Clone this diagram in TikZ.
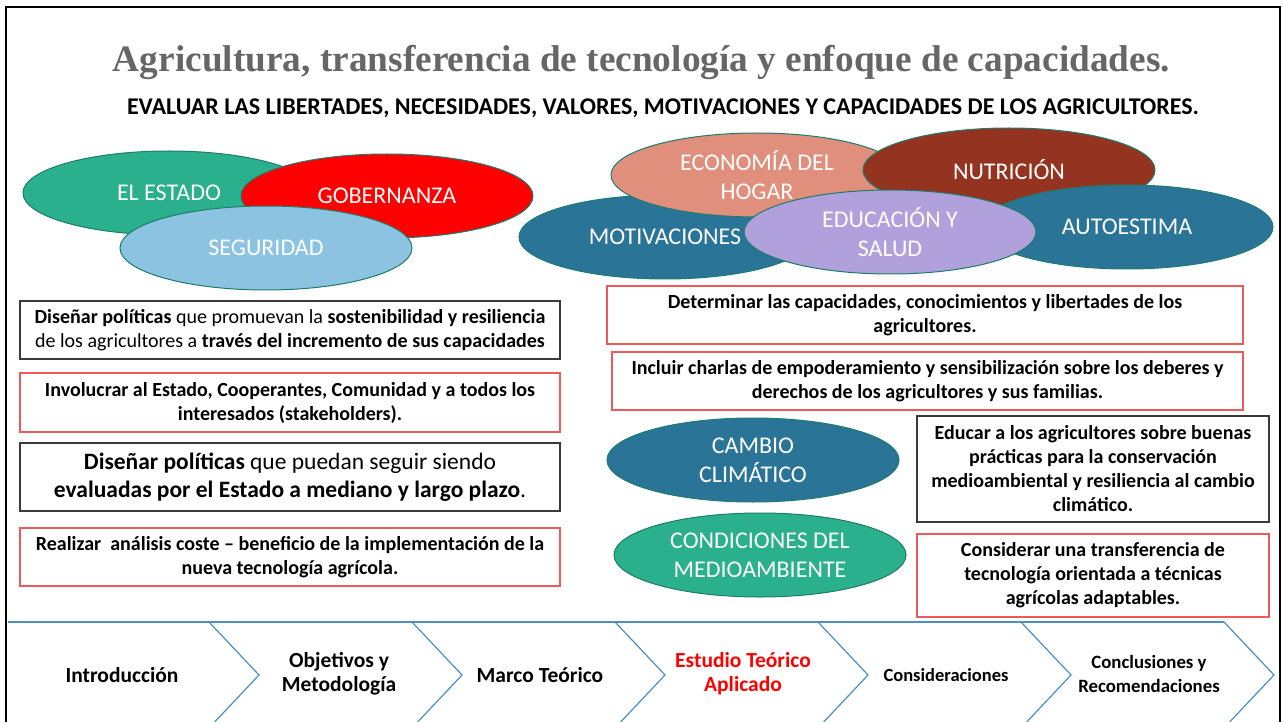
\documentclass[tikz,border=0pt]{standalone}
\usepackage{fontspec}
\setmainfont{Carlito}
\newfontfamily\titlefont{Liberation Serif}
\usetikzlibrary{shapes.geometric}
\definecolor{cgreen}{HTML}{2AB08C}
\definecolor{cred}{HTML}{FF0000}
\definecolor{clblue}{HTML}{8CC3E0}
\definecolor{csalmon}{HTML}{E08F7C}
\definecolor{cbrown}{HTML}{943420}
\definecolor{cteal}{HTML}{2A7497}
\definecolor{clav}{HTML}{B0A0DC}
\definecolor{cedge}{HTML}{1D7D6B}
\definecolor{boxred}{HTML}{EE5A5A}
\definecolor{boxblack}{HTML}{3A3A3A}
\definecolor{chev}{HTML}{4A90C4}
\definecolor{titlegray}{HTML}{666666}
\tikzset{
  oval/.style={ellipse, draw=cedge, line width=1pt, minimum width=292pt, minimum height=84pt, inner sep=0pt, text=white, align=center, font=\fontsize{24}{29}\selectfont},
  redbox/.style={draw=boxred, line width=1.4pt, inner sep=0pt, align=center, font=\bfseries\fontsize{20}{24}\selectfont},
  blackbox/.style={draw=boxblack, line width=1.4pt, inner sep=0pt, align=center, font=\fontsize{20}{24}\selectfont},
  chevline/.style={draw=chev, line width=1.2pt},
  chevtext/.style={align=center, font=\bfseries\fontsize{21.5}{24}\selectfont},
}
\begin{document}
\begin{tikzpicture}[x=1pt,y=-1pt]
\useasboundingbox (0,0) rectangle (1283,722);
\fill[white] (0,0) rectangle (1283,722);
\begin{scope}
\clip (0,0) rectangle (1283,722);
% frame
\draw[black, line width=2pt] (6,730) -- (6,7) -- (1280,7) -- (1280,730);
% title
\node[font=\titlefont\bfseries\fontsize{37.3}{42}\selectfont, text=titlegray] (title) at (641.5,62) {Agricultura, transferencia de tecnología y enfoque de capacidades.};
\node[font=\bfseries\fontsize{24}{28}\selectfont] (sub) at (663,108) {EVALUAR LAS LIBERTADES, NECESIDADES, VALORES, MOTIVACIONES Y CAPACIDADES DE LOS AGRICULTORES.};
% left cluster
\node[oval, fill=cgreen] (estado) at (169,193) {EL ESTADO};
\node[oval, fill=cred] (gob) at (387,196) {GOBERNANZA};
\node[oval, fill=clblue] (seg) at (266,248) {SEGURIDAD};
% right cluster
\node[oval, fill=cteal] (mot) at (665,237) {MOTIVACIONES};
\node[oval, fill=csalmon] (eco) at (757,175) {ECONOMÍA DEL\\HOGAR};
\node[oval, fill=cbrown] (nut) at (1009,170) {NUTRICIÓN};
\node[oval, fill=cteal] (auto) at (1127,227) {AUTOESTIMA};
\node[oval, fill=clav] (edu) at (890,232) {EDUCACIÓN Y\\SALUD};
% left boxes
\node[blackbox, minimum width=540pt, minimum height=58pt] (b1) at (290,330) {\textbf{Diseñar políticas} que promuevan la \textbf{sostenibilidad y resiliencia}\\de los agricultores a \textbf{través del incremento de sus capacidades}};
\node[redbox, minimum width=540pt, minimum height=59pt] (b2) at (290,402.5) {Involucrar al Estado, Cooperantes, Comunidad y a todos los\\interesados (stakeholders).};
\node[blackbox, minimum width=540pt, minimum height=68pt, font=\fontsize{23.5}{28}\selectfont] (b3) at (290,477) {\textbf{Diseñar políticas} que puedan seguir siendo\\\textbf{evaluadas por el Estado a mediano y largo plazo}.};
\node[redbox, minimum width=540pt, minimum height=58pt] (b4) at (290,557) {Realizar\ \ análisis coste – beneficio de la implementación de la\\nueva tecnología agrícola.};
% right boxes
\node[redbox, minimum width=636pt, minimum height=58pt] (r1) at (925,315) {Determinar las capacidades, conocimientos y libertades de los\\agricultores.};
\node[redbox, minimum width=631pt, minimum height=58pt] (r2) at (927.5,381) {Incluir charlas de empoderamiento y sensibilización sobre los deberes y\\derechos de los agricultores y sus familias.};
\node[oval, fill=cteal] (clima) at (753,460) {CAMBIO\\CLIMÁTICO};
\node[oval, fill=cgreen] (medio) at (760,555) {CONDICIONES DEL\\MEDIOAMBIENTE};
\node[blackbox, font=\bfseries\fontsize{20}{24}\selectfont, minimum width=352pt, minimum height=106pt] (r3) at (1093,469) {Educar a los agricultores sobre buenas\\prácticas para la conservación\\medioambiental y resiliencia al cambio\\climático.};
\node[redbox, minimum width=352pt, minimum height=83pt] (r4) at (1093,575.5) {Considerar una transferencia de\\tecnología orientada a técnicas\\agrícolas adaptables.};
% chevrons
\draw[chevline] (8,622) -- (1224,622);
\foreach \n in {209,412,615,818,1021,1224}{
  \draw[chevline] (\n,622) -- (\n+50,675) -- (\n,728);
}
\node[chevtext] (c1) at (122,675) {Introducción};
\node[chevtext] (c2) at (339,674) {Objetivos y\\Metodología};
\node[chevtext] (c3) at (540,675) {Marco Teórico};
\node[chevtext, text=red] (c4) at (743,674) {Estudio Teórico\\Aplicado};
\node[chevtext, font=\bfseries\fontsize{18.5}{24}\selectfont] (c5) at (946,675) {Consideraciones};
\node[chevtext, font=\bfseries\fontsize{18.8}{24}\selectfont] (c6) at (1149,674) {Conclusiones y\\Recomendaciones};
\end{scope}
\end{tikzpicture}
\end{document}
